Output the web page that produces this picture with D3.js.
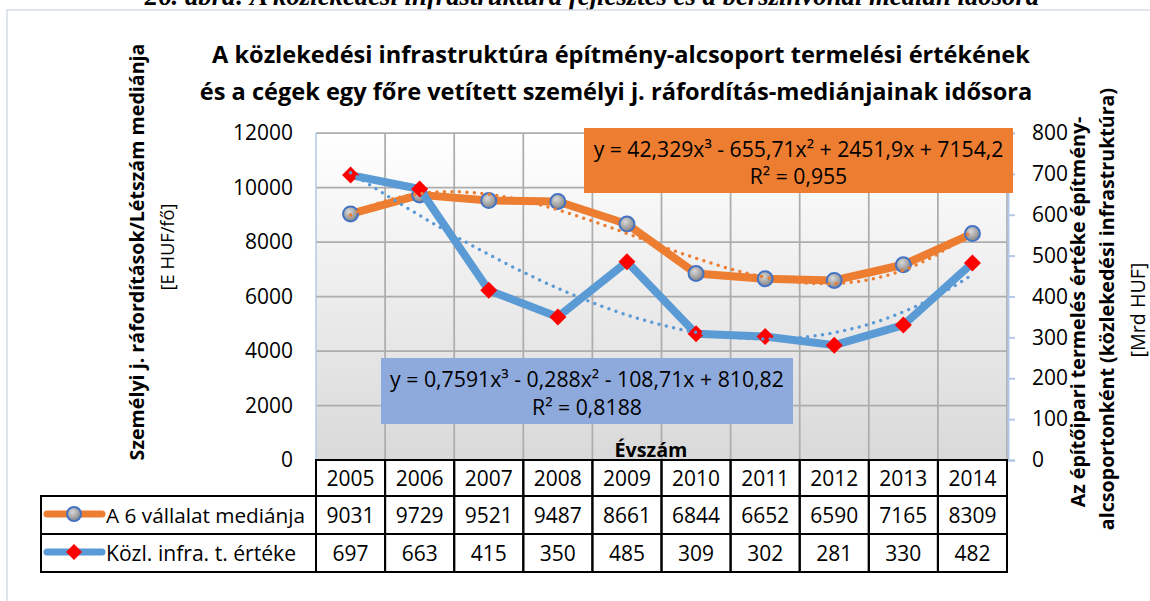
<!DOCTYPE html>
<html>
<head>
<meta charset="utf-8">
<script src="https://cdn.jsdelivr.net/npm/d3@7"></script>
<style>
  body { margin: 0; background: #fff; }
  svg { display: block; font-family: "Open Sans", sans-serif; }
</style>
</head>
<body>
<div id="chart"></div>
<script>
// ---- data ----
const years = ["2005","2006","2007","2008","2009","2010","2011","2012","2013","2014"];
const medianValues = [9031, 9729, 9521, 9487, 8661, 6844, 6652, 6590, 7165, 8309]; // left axis
const infraValues = [697, 663, 415, 350, 485, 309, 302, 281, 330, 482];            // right axis
const leftTicks = [0, 2000, 4000, 6000, 8000, 10000, 12000];
const rightTicks = [0, 100, 200, 300, 400, 500, 600, 700, 800];
// trendline coefficients (x^3, x^2, x, const) as shown in the boxes
const medianTrend = [42.329, -655.71, 2451.9, 7154.2];
const infraTrend = [0.7591, -0.288, -108.71, 810.82];
const seriesNames = ["A 6 vállalat mediánja", "Közl. infra. t. értéke"];

const W = 1150, H = 601;
const orange = "#ED7D31", blue = "#5B9BD5", axisBlue = "#B4C7E7";

const svg = d3.select("#chart").append("svg")
  .attr("width", W).attr("height", H);

const defs = svg.append("defs");
let bg = defs.append("linearGradient").attr("id", "plotbg")
  .attr("x1", 0).attr("y1", 0).attr("x2", 0).attr("y2", 1);
bg.append("stop").attr("offset", "0%").attr("stop-color", "#ffffff");
bg.append("stop").attr("offset", "100%").attr("stop-color", "#d9d9d9");
let mk = defs.append("radialGradient").attr("id", "markerGray")
  .attr("cx", "40%").attr("cy", "35%").attr("r", "70%");
mk.append("stop").attr("offset", "0%").attr("stop-color", "#d8d8d8");
mk.append("stop").attr("offset", "100%").attr("stop-color", "#7f7f7f");

// fits a text element to a given width by scaling its font-size
function fit(sel, width) {
  const fs = parseFloat(sel.style("font-size"));
  const w = sel.node().getComputedTextLength();
  sel.style("font-size", (fs * width / w) + "px");
  return sel;
}

// number font size: "12000" is about 60px wide in the reference
const probe = svg.append("text").style("font-size", "20px").text("12000");
fit(probe, 60);
const numSize = probe.style("font-size");
probe.remove();

// caption (cut off at top) and chart frame
fit(svg.append("text")
  .attr("x", 592).attr("y", 5)
  .attr("text-anchor", "middle")
  .style("font-family", "'Liberation Serif', serif")
  .style("font-style", "italic").style("font-weight", "bold")
  .style("font-size", "22px")
  .text("26. ábra: A közlekedési infrastruktúra fejlesztés és a bérszínvonal medián idősora"), 895);

svg.append("rect")
  .attr("x", 7).attr("y", 10).attr("width", W + 10).attr("height", H + 10)
  .attr("fill", "#fff").attr("stroke", "#d6dce5").attr("stroke-width", 1.5);

// scales
const x = d3.scaleBand().domain(years).range([316, 1007]);
const bw = x.bandwidth();
const cx = d => x(d) + bw / 2;
const yL = d3.scaleLinear().domain([0, 12000]).range([460, 133]);
const yR = d3.scaleLinear().domain([0, 800]).range([460, 133]);
const xT = d3.scaleLinear().domain([1, 10]).range([cx(years[0]), cx(years[9])]);

// plot area
svg.append("rect")
  .attr("x", 316).attr("y", 133).attr("width", 1007 - 316).attr("height", 460 - 133)
  .attr("fill", "url(#plotbg)");

svg.append("g").selectAll("line")
  .data(leftTicks.filter(d => d > 0))
  .join("line")
  .attr("x1", 316).attr("x2", 1007)
  .attr("y1", d => yL(d)).attr("y2", d => yL(d))
  .attr("stroke", "#adadad").attr("stroke-width", 1.75);

svg.append("g").selectAll("line")
  .data(years.slice(1).concat(["end"]))
  .join("line")
  .attr("x1", d => d === "end" ? 1007 : x(d)).attr("x2", d => d === "end" ? 1007 : x(d))
  .attr("y1", 133).attr("y2", 460)
  .attr("stroke", "#adadad").attr("stroke-width", 1.75);

// left axis line (light blue)
svg.append("line").attr("x1", 316).attr("x2", 316).attr("y1", 133).attr("y2", 460)
  .attr("stroke", axisBlue).attr("stroke-width", 1.5);

// axes
const gl = svg.append("g").attr("transform", "translate(316,0)")
  .call(d3.axisLeft(yL).tickValues(leftTicks).tickFormat(d3.format("d")).tickSize(0).tickPadding(23));
gl.select(".domain").remove();
gl.selectAll("text").style("font-size", numSize).style("font-family", "'Open Sans', sans-serif").attr("fill", "#000");

const gr = svg.append("g").attr("transform", "translate(1008,0)")
  .call(d3.axisRight(yR).tickValues(rightTicks).tickFormat(d3.format("d")).tickSize(7).tickPadding(17));
gr.select(".domain").attr("stroke", axisBlue).attr("stroke-width", 2);
gr.selectAll(".tick line").attr("stroke", axisBlue).attr("stroke-width", 2);
gr.selectAll("text").style("font-size", numSize).style("font-family", "'Open Sans', sans-serif").attr("fill", "#000");

// series lines
const lineL = d3.line().x((d, i) => cx(years[i])).y(d => yL(d));
const lineR = d3.line().x((d, i) => cx(years[i])).y(d => yR(d));
const diamond = (s) => `M0,${-s}L${s},0L0,${s}L${-s},0Z`;

svg.append("path").datum(medianValues).attr("d", lineL)
  .attr("fill", "none").attr("stroke", orange).attr("stroke-width", 8)
  .attr("stroke-linejoin", "round").attr("stroke-linecap", "round");
svg.append("g").selectAll("circle").data(medianValues).join("circle")
  .attr("cx", (d, i) => cx(years[i])).attr("cy", d => yL(d)).attr("r", 7.5)
  .attr("fill", "url(#markerGray)").attr("stroke", "#4472C4").attr("stroke-width", 2);

svg.append("path").datum(infraValues).attr("d", lineR)
  .attr("fill", "none").attr("stroke", blue).attr("stroke-width", 8)
  .attr("stroke-linejoin", "round").attr("stroke-linecap", "round");
svg.append("g").selectAll("path").data(infraValues).join("path")
  .attr("transform", (d, i) => `translate(${cx(years[i])},${yR(d)})`)
  .attr("d", diamond(8.5)).attr("fill", "#FF0000");

// trendlines (dotted)
const poly = (c, t) => c[0] * t * t * t + c[1] * t * t + c[2] * t + c[3];
const ts = d3.range(1, 10.001, 0.1);
svg.append("path").datum(ts)
  .attr("d", d3.line().x(t => xT(t)).y(t => yL(poly(medianTrend, t))))
  .attr("fill", "none").attr("stroke", orange).attr("stroke-width", 3.5)
  .attr("stroke-dasharray", "0,7.5").attr("stroke-linecap", "round");
svg.append("path").datum(ts)
  .attr("d", d3.line().x(t => xT(t)).y(t => yR(poly(infraTrend, t))))
  .attr("fill", "none").attr("stroke", blue).attr("stroke-width", 3.5)
  .attr("stroke-dasharray", "0,7.5").attr("stroke-linecap", "round");

// equation boxes
function eqBox(x0, y0, x1, y1, fill, line1, line2, w1, b1, b2) {
  svg.append("rect").attr("x", x0).attr("y", y0).attr("width", x1 - x0).attr("height", y1 - y0)
    .attr("fill", fill);
  const mid = (x0 + x1) / 2;
  const t1 = svg.append("text").attr("x", mid).attr("y", b1).attr("text-anchor", "middle")
    .style("font-size", "21px").text(line1);
  fit(t1, w1);
  svg.append("text").attr("x", mid).attr("y", b2).attr("text-anchor", "middle")
    .style("font-size", t1.style("font-size")).text(line2);
}
eqBox(584, 128, 1013, 193, orange,
  "y = 42,329x³ - 655,71x² + 2451,9x + 7154,2", "R² = 0,955", 410, 157, 184);
eqBox(381, 358, 793, 424, "#8EA9DB",
  "y = 0,7591x³ - 0,288x² - 108,71x + 810,82", "R² = 0,8188", 394, 387, 415);

// titles
const t1 = svg.append("text").attr("x", 621).attr("y", 63).attr("text-anchor", "middle")
  .style("font-weight", "bold").style("font-size", "21px")
  .text("A közlekedési infrastruktúra építmény-alcsoport termelési értékének");
fit(t1, 818);
const t2 = svg.append("text").attr("x", 616).attr("y", 100).attr("text-anchor", "middle")
  .style("font-weight", "bold").style("font-size", "21px")
  .text("és a cégek egy főre vetített személyi j. ráfordítás-mediánjainak idősora");
fit(t2, 833);

fit(svg.append("text").attr("x", 651).attr("y", 457).attr("text-anchor", "middle")
  .style("font-weight", "bold").style("font-size", "18px").text("Évszám"), 73);

// left axis titles
const lt = svg.append("text").attr("transform", "translate(144,252) rotate(-90)")
  .attr("text-anchor", "middle").style("font-weight", "bold").style("font-size", "18px")
  .text("Személyi j. ráfordítások/Létszám mediánja");
fit(lt, 417);
fit(svg.append("text").attr("transform", "translate(174,247) rotate(-90)")
  .attr("text-anchor", "middle").style("font-size", "18px").text("[E HUF/fő]"), 87);

// right axis titles
svg.append("text").attr("transform", "translate(1085,312) rotate(-90)")
  .attr("text-anchor", "middle").style("font-weight", "bold").style("font-size", lt.style("font-size"))
  .text("Az építőipari termelés értéke építmény-");
svg.append("text").attr("transform", "translate(1114,309) rotate(-90)")
  .attr("text-anchor", "middle").style("font-weight", "bold").style("font-size", lt.style("font-size"))
  .text("alcsoportonként (közlekedési infrastruktúra)");
fit(svg.append("text").attr("transform", "translate(1145,310) rotate(-90)")
  .attr("text-anchor", "middle").style("font-size", "18px").text("[Mrd HUF]"), 95);

// data table
const tbl = svg.append("g");
const rowTop = [460, 496, 534];
const rowBot = 572;
const stroke = (s) => s.attr("stroke", "#000").attr("stroke-width", 2).attr("fill", "none");

// header cells (years)
tbl.selectAll("rect.hdr").data(years).join("rect").attr("class", "hdr")
  .attr("x", d => x(d)).attr("y", rowTop[0]).attr("width", bw).attr("height", rowTop[1] - rowTop[0])
  .call(stroke);
tbl.selectAll("text.hdr").data(years).join("text").attr("class", "hdr")
  .attr("x", d => cx(d)).attr("y", (rowTop[0] + rowTop[1]) / 2 + 8)
  .attr("text-anchor", "middle").style("font-size", numSize).text(d => d);

const rows = [medianValues, infraValues];
rows.forEach((vals, r) => {
  const y0 = rowTop[r + 1], y1 = r === 0 ? rowTop[2] : rowBot;
  tbl.append("rect").attr("x", 41).attr("y", y0).attr("width", 316 - 41).attr("height", y1 - y0).call(stroke);
  tbl.selectAll("rect.r" + r).data(years).join("rect").attr("class", "r" + r)
    .attr("x", d => x(d)).attr("y", y0).attr("width", bw).attr("height", y1 - y0).call(stroke);
  tbl.selectAll("text.r" + r).data(vals).join("text").attr("class", "r" + r)
    .attr("x", (d, i) => cx(years[i])).attr("y", (y0 + y1) / 2 + 8)
    .attr("text-anchor", "middle").style("font-size", numSize).text(d => d);
  const ly = (y0 + y1) / 2 - 1;
  tbl.append("line").attr("x1", 47).attr("x2", 102).attr("y1", ly).attr("y2", ly)
    .attr("stroke", r === 0 ? orange : blue).attr("stroke-width", 7).attr("stroke-linecap", "round");
  if (r === 0) {
    tbl.append("circle").attr("cx", 74).attr("cy", ly).attr("r", 7)
      .attr("fill", "url(#markerGray)").attr("stroke", "#4472C4").attr("stroke-width", 2);
  } else {
    tbl.append("path").attr("transform", `translate(74,${ly})`).attr("d", diamond(8)).attr("fill", "#FF0000");
  }
  const lt2 = tbl.append("text").attr("x", 106).attr("y", (y0 + y1) / 2 + 8)
    .style("font-size", numSize).text(seriesNames[r]);
  fit(lt2, r === 0 ? 199 : 190);
});
</script>
</body>
</html>
